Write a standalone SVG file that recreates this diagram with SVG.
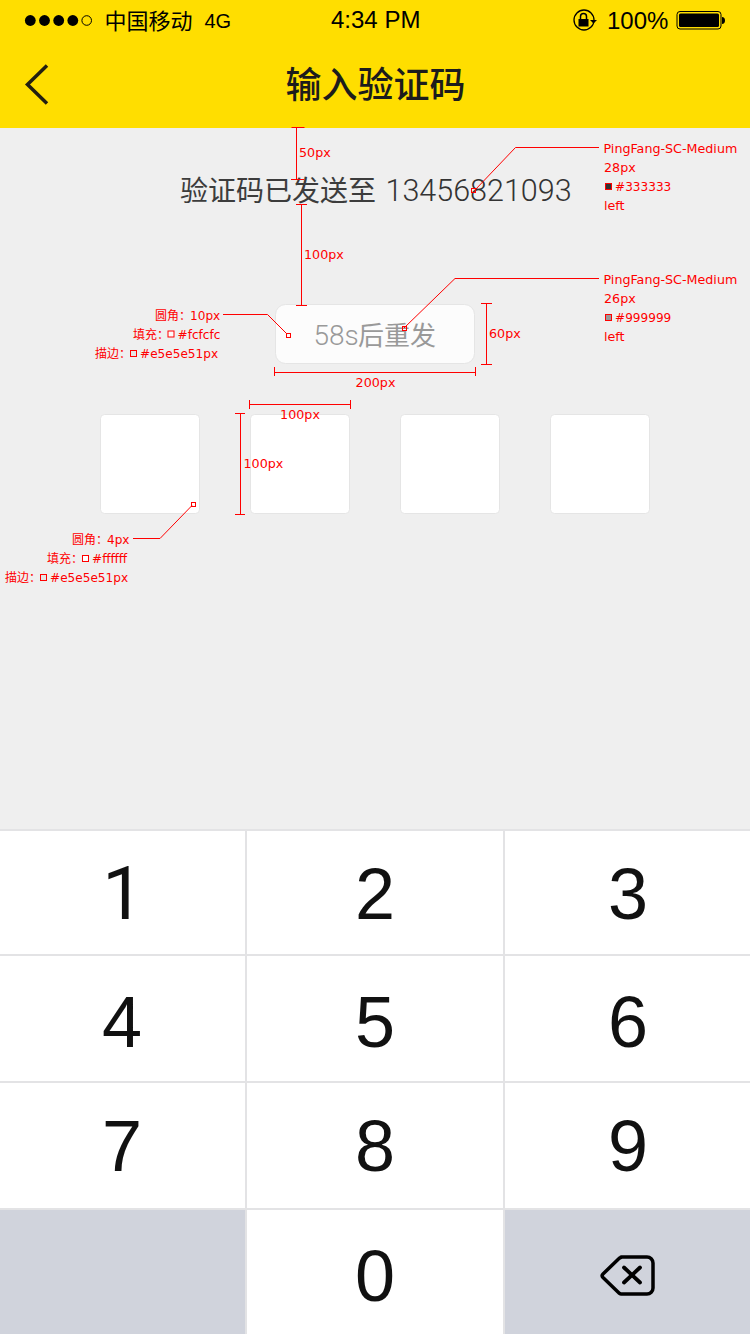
<svg xmlns="http://www.w3.org/2000/svg" width="750" height="1334" viewBox="0 0 750 1334">
<style>
.sans{font-family:"Liberation Sans","Noto Sans CJK SC",sans-serif}
.cn{font-family:"Noto Sans CJK SC",sans-serif}
.bar{fill:#000}
.key{font-family:"Liberation Sans",sans-serif;font-size:72px;fill:#111;text-anchor:middle}
.ann{font-family:"DejaVu Sans","Noto Sans CJK SC",sans-serif;font-size:12.7px;fill:#f00}
.sm{font-size:12.1px}
.zh{font-family:"Noto Sans CJK SC",sans-serif;font-size:12px}
.mid{text-anchor:middle}
.r{stroke:#f00;stroke-width:1;fill:none}
.swatch{stroke:#f00;stroke-width:1}
.cell{fill:#fff;stroke:#e5e5e5;stroke-width:1}
.keyline{stroke:#e3e3e5;stroke-width:2;fill:none}
</style>
<rect width="750" height="1334" fill="#efefef"/>
<g id="header">
<rect width="750" height="128" fill="#ffde00"/>
<g fill="#000"><circle cx="30.300" cy="20.500" r="5.400"/><circle cx="44.500" cy="20.500" r="5.400"/><circle cx="58.700" cy="20.500" r="5.400"/><circle cx="72.800" cy="20.500" r="5.400"/></g>
<circle cx="86.700" cy="20.500" r="4.800" fill="none" stroke="#000" stroke-width="1"/>
<text class="cn bar" x="104.500" y="29" font-size="22">中国移动</text>
<text class="sans bar" x="204.500" y="28" font-size="20">4G</text>
<text class="sans bar" x="331" y="28" font-size="24">4:34 PM</text>
<circle cx="584" cy="20" r="10" fill="none" stroke="#000" stroke-width="1.300"/>
<rect x="578.500" y="19" width="10" height="7.500" fill="#000"/>
<path d="M580.500 19v-2.500a3 3 0 0 1 6 0V19" fill="none" stroke="#000" stroke-width="1.500"/>
<path d="M590 20h7l-3.500 3.500z" fill="#000"/>
<text class="sans bar" x="607" y="29" font-size="24">100%</text>
<rect x="677" y="11.500" width="44" height="17.500" rx="3" fill="none" stroke="#000" stroke-width="1"/>
<rect x="679" y="13.500" width="40" height="13.500" rx="1.500" fill="#000"/>
<path d="M722 17c2 0 3 1.500 3 3.500s-1 3.500-3 3.500z" fill="#000"/>
<path d="M47 65.500L27.500 84.500 47 103.500" fill="none" stroke="#231f10" stroke-width="3.500"/>
<text class="cn" x="375.500" y="98" font-size="36" font-weight="500" fill="#1c1c1c" text-anchor="middle">输入验证码</text>
</g>
<g id="sent-text"><text x="180" y="201" font-size="28" fill="#3c3c3c" class="cn">验证码已发送至<tspan x="385.500" font-family="Roboto,'Liberation Sans',sans-serif" font-weight="300" font-size="30.500" fill="#333">13456821093</tspan></text></g>
<g id="resend-button">
<rect x="275.500" y="304.500" width="199" height="59" rx="10" fill="#fcfcfc" stroke="#e5e5e5"/>
<text x="313.500" y="345" font-size="26" fill="#999" class="cn"><tspan font-family="Roboto,'Liberation Sans',sans-serif" font-weight="300" font-size="28">58s</tspan><tspan x="358">后重发</tspan></text>
</g>
<g id="code-box-1"><rect class="cell" x="100.500" y="414.500" width="99" height="99" rx="4"/></g>
<g id="code-box-2"><rect class="cell" x="250.500" y="414.500" width="99" height="99" rx="4"/></g>
<g id="code-box-3"><rect class="cell" x="400.500" y="414.500" width="99" height="99" rx="4"/></g>
<g id="code-box-4"><rect class="cell" x="550.500" y="414.500" width="99" height="99" rx="4"/></g>
<g id="keypad">
<rect x="0" y="829" width="750" height="505" fill="#fff"/>
<rect x="0" y="1209" width="246" height="125" fill="#d0d3dc"/>
<rect x="504" y="1209" width="246" height="125" fill="#d0d3dc"/>
<path class="keyline" d="M0 830H750M0 955H750M0 1082H750M0 1209H750M246 830V1334M504 830V1334"/>
<text class="key" x="123" y="918.500" style="font-family:Roboto,sans-serif;font-size:74px">1</text><text class="key" x="375" y="918.500">2</text><text class="key" x="628" y="918.500">3</text>
<text class="key" x="122" y="1047">4</text><text class="key" x="375" y="1046.500">5</text><text class="key" x="628" y="1046.500">6</text>
<text class="key" x="122" y="1171">7</text><text class="key" x="375" y="1171">8</text><text class="key" x="628" y="1171">9</text>
<text class="key" x="375" y="1301">0</text>
<path d="M621 1257H647a6 6 0 0 1 6 6v25a6 6 0 0 1-6 6H621a3 3 0 0 1-2-1l-16-15.500a2.500 2.500 0 0 1 0-3.500l16-15.500a3 3 0 0 1 2-1z" fill="none" stroke="#000" stroke-width="3.500" stroke-linejoin="round"/>
<path d="M624 1267.500l16 15M640 1267.500l-16 15" stroke="#000" stroke-width="3.800" stroke-linecap="round"/>
</g>
<g id="connectors">
<path class="r" d="M291.500 127.500h13M296.500 127.500v52M291 179.500h13M296 204.500h11M301.500 204.500v101M296 305.500h11"/>
<path class="r" d="M475 190l40.500-42.500H599"/>
<rect class="r" x="471.500" y="188.500" width="4" height="4"/>
<path class="r" d="M404 328l51-49.500H599"/>
<rect class="r" x="402.500" y="326.500" width="4" height="4"/>
<path class="r" d="M223 314.500h44.500l19 19"/>
<rect class="r" x="286.500" y="333.500" width="4" height="4"/>
<path class="r" d="M133 538.500h27l32-33"/>
<rect class="r" x="191.500" y="502.500" width="4" height="4"/>
<path class="r" d="M481 303.500h11M486.500 303.500v61M481 364.500h11"/>
<path class="r" d="M274.500 367v9M274.500 372.500h201M475.500 367v9"/>
<path class="r" d="M249.500 400v9M249.500 404.500h101M350.500 400v9"/>
<path class="r" d="M235 413.500h10M240.500 413.500v101M235 514.500h10"/>
</g>
<g id="annotations">
<text class="ann" x="299" y="157">50px</text>
<text class="ann" x="304" y="259">100px</text>
<text class="ann" x="489" y="338">60px</text>
<text class="ann mid" x="375.500" y="387">200px</text>
<text class="ann mid" x="300" y="419">100px</text>
<text class="ann" x="243.500" y="468">100px</text>
<text class="ann" x="603.500" y="153">PingFang-SC-Medium</text>
<text class="ann" x="604" y="172">28px</text>
<rect class="swatch" x="605.500" y="183.500" width="6" height="6" fill="#333"/>
<text class="ann sm" x="615" y="191">#333333</text>
<text class="ann" x="604" y="210">left</text>
<text class="ann" x="603.500" y="284">PingFang-SC-Medium</text>
<text class="ann" x="604" y="303">26px</text>
<rect class="swatch" x="605.500" y="314.500" width="6" height="6" fill="#999"/>
<text class="ann sm" x="615" y="322">#999999</text>
<text class="ann" x="604" y="341">left</text>
<text class="ann sm" x="155" y="320"><tspan class="zh">圆角：</tspan><tspan x="190">10px</tspan></text>
<rect class="swatch" x="168" y="331" width="6" height="6" fill="#fcfcfc"/>
<text class="ann sm" x="133" y="339"><tspan class="zh">填充：</tspan><tspan x="177.500">#fcfcfc</tspan></text>
<rect class="swatch" x="130.500" y="350.500" width="6" height="6" fill="#e5e5e5"/>
<text class="ann sm" x="95" y="358"><tspan class="zh">描边：</tspan><tspan x="140">#e5e5e51px</tspan></text>
<text class="ann sm" x="72" y="544"><tspan class="zh">圆角：</tspan><tspan x="107">4px</tspan></text>
<rect class="swatch" x="82.500" y="555.500" width="6" height="6" fill="#fff"/>
<text class="ann sm" x="47" y="563"><tspan class="zh">填充：</tspan><tspan x="92">#ffffff</tspan></text>
<rect class="swatch" x="40.500" y="574.500" width="6" height="6" fill="#e5e5e5"/>
<text class="ann sm" x="5" y="582"><tspan class="zh">描边：</tspan><tspan x="50">#e5e5e51px</tspan></text>
</g>
</svg>
